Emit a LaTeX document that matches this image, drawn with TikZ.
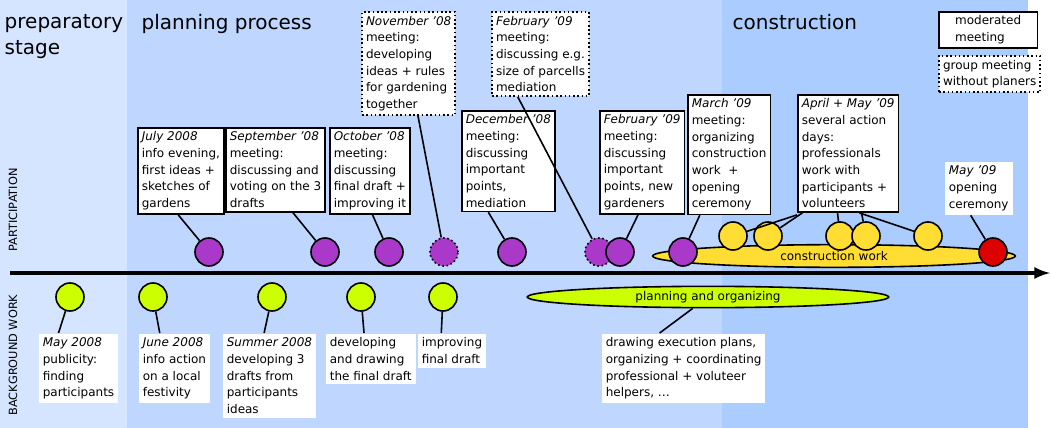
\documentclass[tikz,border=0pt]{standalone}
\usepackage{fontspec}
\setmainfont{DejaVu Sans}
\usetikzlibrary{shapes.geometric}
\definecolor{bgprep}{HTML}{D5E5FF}
\definecolor{bgplan}{HTML}{BFD7FF}
\definecolor{bgcons}{HTML}{AACCFF}
\definecolor{meetcol}{HTML}{AA38C8}
\definecolor{workcol}{HTML}{CCFF00}
\definecolor{actcol}{HTML}{FFDD33}
\definecolor{endcol}{HTML}{DD0000}
\tikzset{
  box/.style={draw, fill=white, line width=1.2pt, anchor=north west, align=left,
    inner sep=3pt, font=\fontsize{9}{12.5}\selectfont},
  dotbox/.style={box, dotted, line width=1.5pt},
  plain/.style={box, draw=none},
  dot/.style={circle, draw, line width=1.2pt, minimum size=21pt, inner sep=0pt},
  meet/.style={dot, fill=meetcol},
  group/.style={meet, dotted},
  work/.style={dot, fill=workcol},
  act/.style={dot, fill=actcol},
  link/.style={line width=1.2pt},
  title/.style={anchor=north west, align=left, font=\fontsize{15}{19.5}\selectfont},
  side/.style={rotate=90, font=\fontsize{8.5}{10}\selectfont}
}
\begin{document}
\begin{tikzpicture}[x=0.75pt, y=-0.75pt]
    \useasboundingbox (0,0) rectangle (1051,428);
    % stages
    \fill[bgprep] (0,0) rectangle (127,428);
    \fill[bgplan] (127,0) rectangle (722,428);
    \fill[bgcons] (722,0) rectangle (1028,428);
    \node[title] (tprep) at (0,10) {preparatory\\stage};
    \node[title] (tplan) at (137,10) {planning process};
    \node[title] (tcons) at (728,10) {construction};
    \node[side] (sidep) at (13,210) {PARTICIPATION};
    \node[side] (sideb) at (13,355) {BACKGROUND WORK};

    % long phases
    \node[ellipse, draw, line width=1.2pt, fill=actcol, minimum width=272pt, minimum height=17pt,
      inner sep=0pt, font=\fontsize{9}{10}\selectfont] (cwork) at (834,256) {construction work};
    \node[ellipse, draw, line width=1.2pt, fill=workcol, minimum width=271pt, minimum height=16pt,
      inner sep=0pt, font=\fontsize{9}{10}\selectfont] (porg) at (708,297) {planning and organizing};

    % time axis
    \coordinate (t0) at (10,273);
    \coordinate (t1) at (1050,273);
    \draw[line width=3pt, -latex] (t0) -- (t1);

    % meetings
    \node[meet] (m1) at (209,252) {};
    \node[meet] (m2) at (325,252) {};
    \node[meet] (m3) at (389,252) {};
    \node[group] (g1) at (444,252) {};
    \node[meet] (m4) at (512,252) {};
    \node[group] (g2) at (599,252) {};
    \node[meet] (m5) at (620,252) {};
    \node[meet] (m6) at (683,252) {};
    \node[act] (a1) at (733,236) {};
    \node[act] (a2) at (768,236) {};
    \node[act] (a3) at (840,236) {};
    \node[act] (a4) at (866,236) {};
    \node[act] (a5) at (928,236) {};
    \node[dot, fill=endcol] (e1) at (993,252) {};

    \node[box] (bjul) at (137,127) {\textit{July 2008}\\info evening,\\first ideas +\\sketches of\\gardens};
    \node[box] (bsep) at (225,127) {\textit{September '08}\\meeting:\\discussing and\\voting on the 3\\drafts};
    \node[box] (boct) at (329,127) {\textit{October '08}\\meeting:\\discussing\\final draft +\\improving it};
    \node[dotbox] (bnov) at (361,11) {\textit{November '08}\\meeting:\\developing\\ideas + rules\\for gardening\\together};
    \node[box] (bdec) at (461,110) {\textit{December '08}\\meeting:\\discussing\\important\\points,\\mediation};
    \node[dotbox] (bfeg) at (491,11) {\textit{February '09}\\meeting:\\discussing e.g.\\size of parcells\\mediation};
    \node[box] (bfeb) at (599,110) {\textit{February '09}\\meeting:\\discussing\\important\\points, new\\gardeners};
    \node[box] (bmar) at (687,94) {\textit{March '09}\\meeting:\\organizing\\construction\\work \ +\\opening\\ceremony};
    \node[box] (bapr) at (797,94) {\textit{April + May '09}\\several action\\days:\\professionals\\work with\\participants +\\volunteers};
    \node[plain] (bmay) at (944,161) {\textit{May '09}\\opening\\ceremony};

    \draw[link] ([xshift=-2pt]bjul.south) -- (m1);
    \draw[link] ([xshift=13pt]bsep.south) -- (m2);
    \draw[link] ([xshift=2pt]boct.south) -- (m3);
    \draw[link] ([xshift=7pt]bnov.south) -- (g1);
    \draw[link] ([xshift=-15pt]bdec.south) -- (m4);
    \draw[link] ([xshift=-17pt]bfeg.south) -- (g2);
    \draw[link] ([xshift=-3pt]bfeb.south) -- (m5);
    \draw[link] ([xshift=-22pt]bmar.south) -- (m6);
    \draw[link] ([yshift=-1.5pt]bapr.south west) -- (a1);
    \draw[link] ([xshift=4pt]bapr.south west) -- (a2);
    \draw[link] ([xshift=-8pt]bapr.south) -- (a3);
    \draw[link] ([xshift=10pt]bapr.south) -- (a4);
    \draw[link] ([xshift=-30pt]bapr.south east) -- (a5);
    \draw[link] ([xshift=-6pt]bmay.south) -- (e1);

    % background work
    \node[work] (w1) at (70,297) {};
    \node[work] (w2) at (153,297) {};
    \node[work] (w3) at (272,297) {};
    \node[work] (w4) at (361,297) {};
    \node[work] (w5) at (443,297) {};

    \node[plain] (cmay) at (38,333) {\textit{May 2008}\\publicity:\\finding\\participants};
    \node[plain] (cjun) at (138,333) {\textit{June 2008}\\info action\\on a local\\festivity};
    \node[plain] (csum) at (222,333) {\textit{Summer 2008}\\developing 3\\drafts from\\participants\\ideas};
    \node[plain] (cdev) at (325,333) {developing\\and drawing\\the final draft};
    \node[plain] (cimp) at (417,333) {improving\\final draft};
    \node[plain] (cexe) at (601,333) {drawing execution plans,\\organizing + coordinating\\professional + voluteer\\helpers, \dots};

    \draw[link] ([xshift=-15pt]cmay.north) -- (w1);
    \draw[link] ([xshift=-11pt]cjun.north) -- (w2);
    \draw[link] ([xshift=-4pt]csum.north) -- (w3);
    \draw[link] ([xshift=-5pt]cdev.north) -- (w4);
    \draw[link] ([xshift=-8pt]cimp.north) -- (w5);
    \draw[link] ([xshift=-18pt]cexe.north) -- (porg);

    % legend
    \node[box, minimum width=74pt] (lmod) at (938,11) {moderated\\meeting};
    \node[dotbox, minimum width=74pt] (lgrp) at (938,55) {group meeting\\without planers};
\end{tikzpicture}
\end{document}
